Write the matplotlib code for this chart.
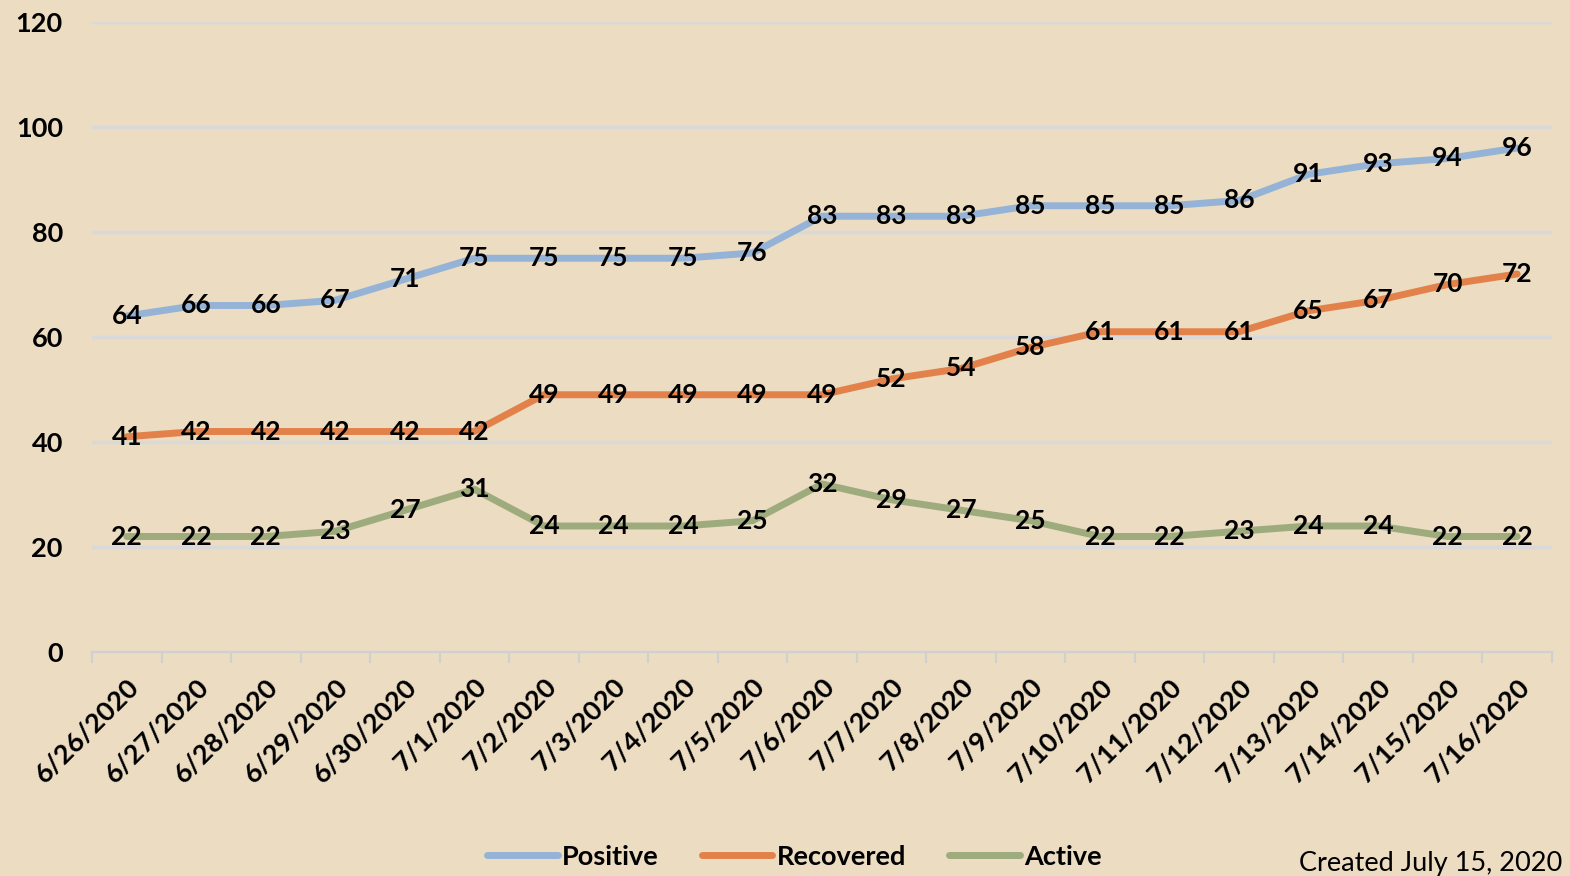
import matplotlib.pyplot as plt

dates = ["6/26/2020", "6/27/2020", "6/28/2020", "6/29/2020", "6/30/2020",
         "7/1/2020", "7/2/2020", "7/3/2020", "7/4/2020", "7/5/2020",
         "7/6/2020", "7/7/2020", "7/8/2020", "7/9/2020", "7/10/2020",
         "7/11/2020", "7/12/2020", "7/13/2020", "7/14/2020", "7/15/2020",
         "7/16/2020"]
positive = [64, 66, 66, 67, 71, 75, 75, 75, 75, 76, 83, 83, 83, 85, 85, 85, 86, 91, 93, 94, 96]
recovered = [41, 42, 42, 42, 42, 42, 49, 49, 49, 49, 49, 52, 54, 58, 61, 61, 61, 65, 67, 70, 72]
active = [22, 22, 22, 23, 27, 31, 24, 24, 24, 25, 32, 29, 27, 25, 22, 22, 23, 24, 24, 22, 22]

bg = "#EBDCC2"
plt.rcParams['font.family'] = ['Lato', 'DejaVu Sans']

fig = plt.figure(figsize=(15.7, 8.76), dpi=100, facecolor=bg)
ax = fig.add_axes([0.0586, 0.2557, 0.9299, 0.7192])
ax.set_facecolor(bg)

x = list(range(len(dates)))
series = [("Positive", positive, "#95B3D7"),
          ("Recovered", recovered, "#E3814A"),
          ("Active", active, "#9EAB7D")]
for name, vals, col in series:
    ax.plot(x, vals, color=col, lw=5, label=name, solid_capstyle="round", zorder=2)
    for xi, v in zip(x, vals):
        ax.text(xi, v, str(v), ha="center", va="center", fontsize=19,
                fontweight="bold", color="black", zorder=3)

ax.set_ylim(0, 120)
ax.set_yticks(range(0, 121, 20))
ax.set_xlim(-0.5, len(dates) - 0.5)
ax.set_xticks(x)
ax.set_xticklabels(dates, rotation=45, ha="right", rotation_mode="anchor",
                   fontsize=19.5, fontweight="bold")
ax.set_xticks([i - 0.5 for i in range(len(dates) + 1)], minor=True)
ax.tick_params(axis="x", which="major", length=0, pad=16)
ax.tick_params(axis="x", which="minor", length=8, color="#D0D0D0", width=1.5)
ax.tick_params(axis="y", length=0, labelsize=19.5, pad=21)
for lab in ax.get_yticklabels():
    lab.set_fontweight("bold")
ax.grid(axis="y", color="#D9D9D9", lw=2.5, zorder=0)
for s in ["top", "right", "left"]:
    ax.spines[s].set_visible(False)
ax.spines["bottom"].set_color("#D0D0D0")
ax.spines["bottom"].set_linewidth(1.5)

leg = fig.legend(loc="center", bbox_to_anchor=(0.506, 0.022), ncol=3, frameon=False,
                 prop={"size": 19.5, "weight": "bold"}, handlelength=2.6,
                 columnspacing=1.6, handletextpad=0.15)
fig.text(0.995, 0.0, "Created July 15, 2020", ha="right", va="bottom", fontsize=19.5)

fig.savefig("out.png", dpi=100, facecolor=bg)
